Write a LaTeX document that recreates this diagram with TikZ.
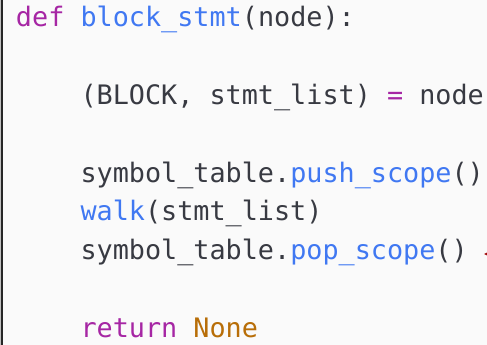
\documentclass[tikz,border=0pt]{standalone}
\usepackage{fontspec}
\setmonofont{DejaVu Sans Mono}
\usetikzlibrary{positioning, arrows.meta}

\definecolor{codebg}{HTML}{FAFAFA}
\definecolor{codetext}{HTML}{383A42}
\definecolor{codekw}{HTML}{A626A4}
\definecolor{codefn}{HTML}{4078F2}
\definecolor{codeconst}{HTML}{B86E08}
\definecolor{arrowred}{HTML}{A00C0C}

\newcommand{\kw}[1]{\textcolor{codekw}{#1}}
\newcommand{\fn}[1]{\textcolor{codefn}{#1}}
\newcommand{\cst}[1]{\textcolor{codeconst}{#1}}

\tikzset{
    codeline/.style={inner sep=0pt, outer sep=0pt, text height=27.75pt, text depth=11pt,
        font=\ttfamily\fontsize{26.8}{38.75}\selectfont, text=codetext},
}

\begin{document}
\begin{tikzpicture}[x=1pt, y=1pt]
    % Frame
    \clip (0,0) rectangle (487,-345);
    \fill[codebg] (0,0) rectangle (487,-345);
    \fill[black!25] (0,0) rectangle (1.2,-345);
    \draw[line width=2pt, black!85] (2.4,0) -- (2.4,-345);

    % Code lines
    \node[codeline, anchor=base west] (def) at (16,-27) {\kw{def} \fn{block\_stmt}(node):};
    \node[codeline, below=38.75pt of def.south west, anchor=north west, xshift=64.5pt] (unpack)
        {(BLOCK, stmt\_list) \kw{=} node};
    \node[codeline, below=38.75pt of unpack.south west, anchor=north west] (push)
        {symbol\_table.\fn{push\_scope}()};
    \node[codeline, below=0pt of push.south west, anchor=north west] (walk)
        {\fn{walk}(stmt\_list)};
    \node[codeline, below=0pt of walk.south west, anchor=north west] (pop)
        {symbol\_table.\fn{pop\_scope}()};
    \node[codeline, below=38.75pt of pop.south west, anchor=north west] (ret)
        {\kw{return} \cst{None}};

    % Arrow
    \coordinate[right=16pt of pop.base east, yshift=5.5pt] (poptip);
    \coordinate[right=25pt of poptip] (poptail);
    \draw[-{Latex[length=6pt, width=7pt]}, arrowred, line width=1.2pt] (poptail) -- (poptip);
\end{tikzpicture}
\end{document}
